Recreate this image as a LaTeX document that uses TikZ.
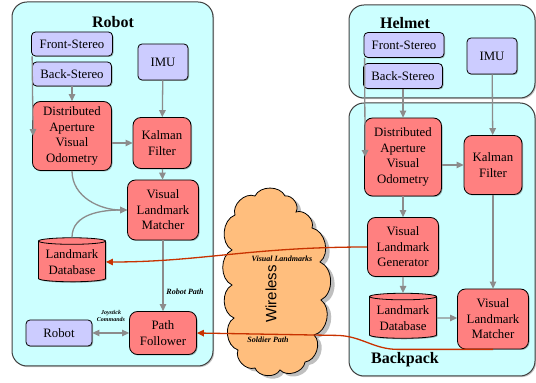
\documentclass[tikz,border=0pt]{standalone}
\usepackage{fontspec}
\setmainfont{Liberation Serif}
\newfontfamily\wirelessfont{Liberation Sans}
\usepackage{tikz}
\usetikzlibrary{arrows.meta, shapes.geometric, shadows}
\usepackage{xcolor}

\definecolor{panelcyan}{HTML}{CCFFFF}
\definecolor{sensorblue}{HTML}{CCCCFF}
\definecolor{procred}{HTML}{FF8080}
\definecolor{cloudorange}{HTML}{FFBE7D}
\definecolor{linkred}{HTML}{C83200}

\tikzset{
    panel/.style={draw=black!75, line width=1pt, fill=panelcyan, rounded corners=15pt,
        drop shadow={shadow xshift=1.2pt, shadow yshift=-1.2pt, fill=black!45}},
    boxtext/.style={font=\fontsize{12.8}{15.5}\selectfont, align=center, inner sep=1pt},
    sensor/.style={boxtext, draw=black, line width=0.8pt, fill=sensorblue, rounded corners=4pt,
        drop shadow={shadow xshift=1pt, shadow yshift=-1pt, fill=black!60}},
    proc/.style={boxtext, draw=black, line width=0.8pt, fill=procred, rounded corners=8pt,
        drop shadow={shadow xshift=1pt, shadow yshift=-1pt, fill=black!60}},
    dbase/.style={boxtext, draw=black, line width=0.8pt, fill=procred, cylinder,
        shape border rotate=90, aspect=0.12,
        drop shadow={shadow xshift=1pt, shadow yshift=-1pt, fill=black!60}},
    title/.style={font=\fontsize{16}{18}\selectfont\bfseries},
    tag/.style={font=\fontsize{8}{9}\selectfont\bfseries\itshape, align=center, inner sep=0pt},
    flow/.style={draw=black!45, line width=1.3pt, -{Triangle[length=7pt, width=6.5pt]}},
    radio/.style={draw=linkred, line width=1.3pt, -{Triangle[length=7pt, width=6.5pt]}},
    puff/.style={bend left=65},
}

\begin{document}
\begin{tikzpicture}[x=1pt, y=1pt]
    \useasboundingbox (0,0) rectangle (536,383);

    % panels
    \path[panel] (12,17) rectangle (213,381);
    \path[panel] (349,285) rectangle (535,378);
    \path[panel] (349,7) rectangle (535,280);

    \node[title] (robottitle) at (113,361) {Robot};
    \node[title] (helmettitle) at (405,360) {Helmet};
    \node[title] (backpacktitle) at (405,23) {Backpack};

    % wireless cloud
    \draw[black, line width=0.8pt, fill=cloudorange,
        drop shadow={shadow xshift=4pt, shadow yshift=-3pt, fill=black!50}]
        (235,168) to[puff] (255,187) to[puff] (285,187) to[puff] (296,171)
        to[puff] (312,155) to[puff] (320,121) to[puff] (321,83) to[puff] (314,48)
        to[puff] (305,21) to[puff] (280,13) to[puff] (255,15) to[puff] (238,33)
        to[puff] (234,65) to[puff] (232,98) to[puff] (232,133) to[puff] cycle;
    \node[rotate=90, font=\wirelessfont\fontsize{15}{17}\selectfont] (wireless) at (271,89) {Wireless};

    % robot side
    \node[sensor, minimum width=81, minimum height=24] (fsR) at (72,339) {Front-Stereo};
    \node[sensor, minimum width=79, minimum height=24] (bsR) at (72,309) {Back-Stereo};
    \node[sensor, minimum width=50, minimum height=36] (imuR) at (163,321) {IMU};
    \node[proc, minimum width=79, minimum height=69] (davoR) at (72,247) {Distributed\\Aperture\\Visual\\Odometry};
    \node[proc, minimum width=58, minimum height=51] (kfR) at (162,240) {Kalman\\Filter};
    \node[proc, minimum width=71, minimum height=60] (vlmR) at (163,173) {Visual\\Landmark\\Matcher};
    \node[dbase, minimum width=67, minimum height=44] (ldR) at (72,121) {Landmark\\Database};
    \node[proc, minimum width=67, minimum height=43] (pfR) at (163,50) {Path\\Follower};
    \node[sensor, minimum width=66, minimum height=26] (robot) at (59,50) {Robot};

    % helmet / backpack side
    \node[sensor, minimum width=80, minimum height=25] (fsH) at (404,338) {Front-Stereo};
    \node[sensor, minimum width=79, minimum height=25] (bsH) at (403,307) {Back-Stereo};
    \node[sensor, minimum width=50, minimum height=36] (imuH) at (492,327) {IMU};
    \node[proc, minimum width=77, minimum height=78] (davoB) at (403,226) {Distributed\\Aperture\\Visual\\Odometry};
    \node[proc, minimum width=58, minimum height=59] (kfB) at (493,218) {Kalman\\Filter};
    \node[proc, minimum width=71, minimum height=59] (vlg) at (403,136) {Visual\\Landmark\\Generator};
    \node[dbase, minimum width=67, minimum height=45] (ldB) at (403,65) {Landmark\\Database};
    \node[proc, minimum width=71, minimum height=60] (vlmB) at (493,64) {Visual\\Landmark\\Matcher};

    % robot flows
    \draw[flow] ([xshift=1pt]fsR.south west) -- ([xshift=1pt]davoR.west);
    \draw[flow] (bsR) -- (davoR);
    \draw[flow] (imuR) -- (kfR);
    \draw[flow] (davoR.east |- kfR.west) -- (kfR.west);
    \draw[flow] (kfR) -- (vlmR);
    \draw[flow] (davoR.south) to[out=-90, in=180] (vlmR.west);
    \draw[flow] (ldR.north) to[out=90, in=180] (vlmR.west);
    \draw[flow] (vlmR) -- (pfR);
    \draw[flow, {Triangle[length=7pt, width=6.5pt]}-{Triangle[length=7pt, width=6.5pt]}] (robot) -- (pfR);

    % helmet / backpack flows
    \draw[flow] ([xshift=1pt]fsH.south west) -- ([xshift=1pt]davoB.west);
    \draw[flow] (bsH) -- (davoB);
    \draw[flow] (imuH) -- (kfB);
    \draw[flow] (davoB.east |- kfB.west) -- (kfB.west);
    \draw[flow] (kfB) -- (vlmB);
    \draw[flow] (davoB) -- (vlg);
    \draw[flow] (vlg) -- (ldB);
    \draw[flow] (ldB) -- (ldB -| vlmB.west);

    % wireless links
    \draw[radio] (vlg.west) .. controls (250,136) and (200,121) .. (ldR.east);
    \draw[radio] (vlmB.south) -- ++(-95,0) to[out=180, in=0] ++(-62,14) -- (pfR.east);

    \node[tag] (robotpath) at (185,91) {Robot Path};
    \node[tag, font=\fontsize{6}{6.5}\selectfont\bfseries\itshape] (joystick) at (111,67) {Joystick\\Commands};
    \node[tag] (visland) at (282,124) {Visual Landmarks};
    \node[tag] (soldierpath) at (268,43) {Soldier Path};
\end{tikzpicture}
\end{document}
